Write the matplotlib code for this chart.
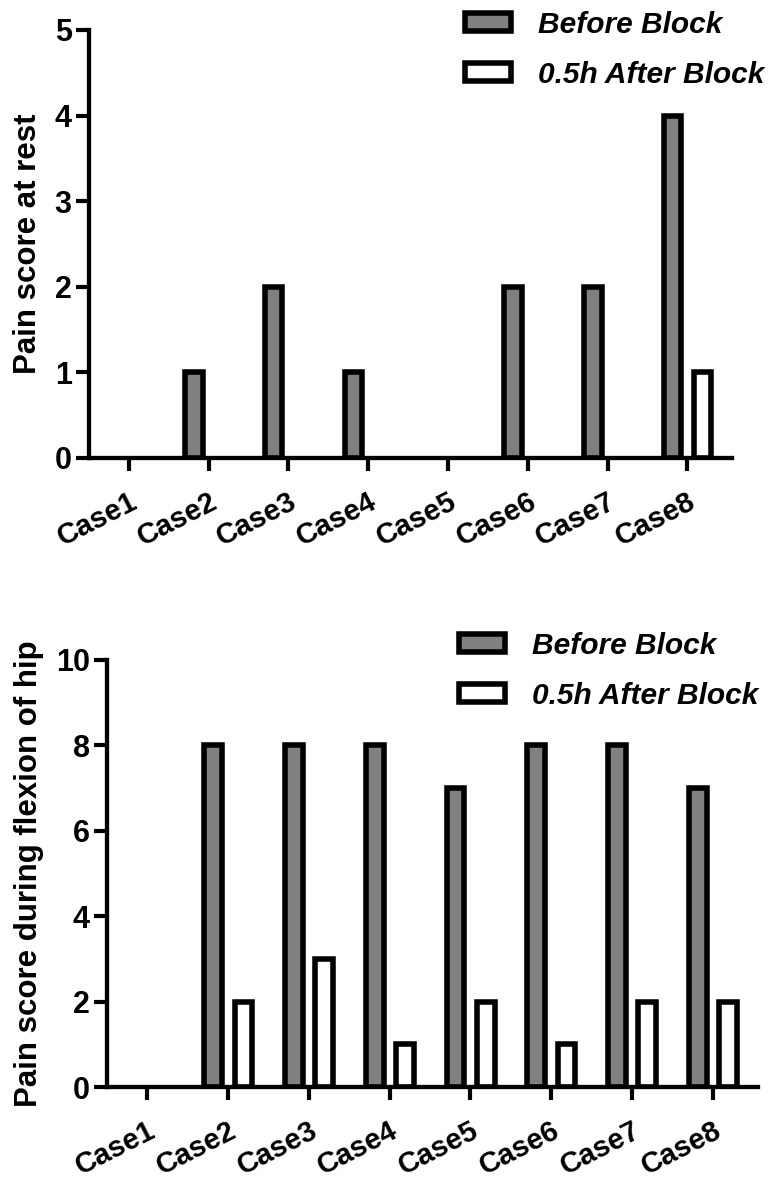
import numpy as np
import matplotlib
matplotlib.use('Agg')
import matplotlib.pyplot as plt
from matplotlib.patches import Patch
import matplotlib.transforms as mtransforms

plt.rcParams['font.family'] = ['Liberation Sans', 'DejaVu Sans']
plt.rcParams['font.weight'] = 'bold'

# data
cases = ['Case1', 'Case2', 'Case3', 'Case4', 'Case5', 'Case6', 'Case7', 'Case8']
rest_before = [0, 1, 2, 1, 0, 2, 2, 4]
rest_after = [0, 0, 0, 0, 0, 0, 0, 1]
flex_before = [0, 8, 8, 8, 7, 8, 8, 7]
flex_after = [0, 2, 3, 1, 2, 1, 2, 2]
series_labels = ['Before Block', '0.5h After Block']

GREY = '#808080'
EDGE_LW = 4.0

fig = plt.figure(figsize=(7.72, 11.8), dpi=100)
ax1 = fig.add_axes([0.1153, 0.6119, 0.8329, 0.3627])
ax2 = fig.add_axes([0.1386, 0.0788, 0.8433, 0.3619])


def draw_panel(ax, before, after, ymax, ystep, ylabel, label_x, legend_anchor):
    x = np.arange(len(cases))
    lw_b = [EDGE_LW if v > 0 else 0 for v in before]
    lw_a = [EDGE_LW if v > 0 else 0 for v in after]
    ax.bar(x - 0.185, before, width=0.22, color=GREY, edgecolor='black',
           linewidth=lw_b, zorder=2)
    ax.bar(x + 0.19, after, width=0.22, color='white', edgecolor='black',
           linewidth=lw_a, zorder=2)

    ax.set_xlim(-0.5, len(cases) - 1 + 0.56)
    ax.set_ylim(0, ymax)
    ax.set_yticks(np.arange(0, ymax + 1, ystep))
    ax.set_xticks(x)
    ax.set_xticklabels(cases, rotation=27, ha='right', va='top',
                       rotation_mode='anchor', fontsize=21, fontweight='bold',
                       fontstyle='normal')
    offset = mtransforms.ScaledTranslation(6 / 100, 0, fig.dpi_scale_trans)
    for lab in ax.get_xticklabels():
        lab.set_transform(lab.get_transform() + offset)

    for s in ['top', 'right']:
        ax.spines[s].set_visible(False)
    for s in ['left', 'bottom']:
        ax.spines[s].set_linewidth(3.1)
    ax.tick_params(axis='y', length=9.5, width=3, pad=3, labelsize=22)
    ax.tick_params(axis='x', length=9.5, width=3, pad=12)
    for lab in ax.get_yticklabels():
        lab.set_fontweight('bold')

    ax.set_ylabel(ylabel, fontsize=22.5, fontweight='bold')
    ax.yaxis.set_label_coords(label_x, 0.5)

    handles = [Patch(facecolor=GREY, edgecolor='black', linewidth=EDGE_LW),
               Patch(facecolor='white', edgecolor='black', linewidth=EDGE_LW)]
    ax.legend(handles, series_labels, loc='upper left',
              bbox_to_anchor=legend_anchor, bbox_transform=fig.transFigure,
              frameon=False, borderpad=0, borderaxespad=0,
              handlelength=1.54, handleheight=0.55, handletextpad=0.9,
              labelspacing=0.73,
              prop={'size': 21.5, 'weight': 'bold', 'style': 'italic'})


draw_panel(ax1, rest_before, rest_after, 5, 1, 'Pain score at rest',
           -0.072, (465 / 772, 1 - 11 / 1180))
draw_panel(ax2, flex_before, flex_after, 10, 2, 'Pain score during flexion of hip',
           -0.097, (459 / 772, 1 - 632 / 1180))

plt.savefig('out.png', dpi=100)
